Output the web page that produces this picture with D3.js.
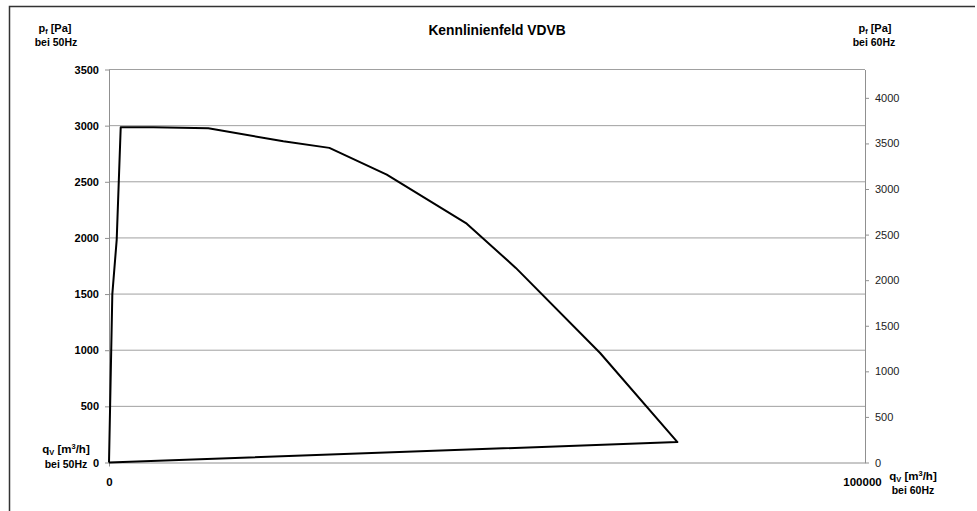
<!DOCTYPE html>
<html>
<head>
<meta charset="utf-8">
<script src="https://cdn.jsdelivr.net/npm/d3@7"></script>
<style>
  body { margin: 0; background: #fff; }
  text { font-family: "Liberation Sans", Arial, sans-serif; }
</style>
</head>
<body>
<svg id="chart" width="977" height="511"></svg>
<script>
// curve points (q in m3/h, p in Pa at 50Hz)
var flowValues = [0, 440, 1020, 1550, 5860, 13140, 23060, 29150, 36740, 47320, 53810, 64960, 75190, 0];
var pressureValues = [0, 1500, 1985, 2986, 2986, 2977, 2861, 2802, 2564, 2127, 1733, 975, 182, 0];
var leftTicks = [0, 500, 1000, 1500, 2000, 2500, 3000, 3500];
var rightTicks = [0, 500, 1000, 1500, 2000, 2500, 3000, 3500, 4000];
var bottomTicks = [0, 100000];

var svg = d3.select("#chart");
// note: "top" is taken by window.top, so use plot* names
var plotLeft = 109, plotRight = 865, plotTop = 69.5, plotBottom = 462.5;

var x = d3.scaleLinear().domain([0, 100000]).range([plotLeft, plotRight]);
var y = d3.scaleLinear().domain([0, 3500]).range([plotBottom, plotTop]);
var y2 = d3.scaleLinear().domain([0, 4311]).range([plotBottom, plotTop]);
var fmt = d3.format("d");

// outer frame (top + left only visible)
svg.append("path")
  .attr("d", "M9.5,511 L9.5,6.5 L975,6.5")
  .attr("fill", "none").attr("stroke", "#333").attr("stroke-width", 1.5);

// grid lines
svg.append("g").selectAll("line").data(leftTicks.slice(1))
  .enter().append("line")
  .attr("x1", plotLeft).attr("x2", plotRight)
  .attr("y1", function (d) { return y(d); })
  .attr("y2", function (d) { return y(d); })
  .attr("stroke", "#a0a0a0").attr("stroke-width", 1);

// left axis
var leftAxis = svg.append("g")
  .attr("transform", "translate(" + plotLeft + ",0)")
  .call(d3.axisLeft(y).tickValues(leftTicks).tickFormat(fmt).tickSize(4).tickPadding(6).tickSizeOuter(0));
leftAxis.selectAll("text").attr("font-size", 11).attr("font-weight", "bold").attr("fill", "#000");

// right axis
var rightAxis = svg.append("g")
  .attr("transform", "translate(" + plotRight + ",0)")
  .call(d3.axisRight(y2).tickValues(rightTicks).tickFormat(fmt).tickSize(4).tickPadding(6).tickSizeOuter(0));
rightAxis.selectAll("text").attr("font-size", 11).attr("fill", "#222");

// bottom axis
var bottomAxis = svg.append("g")
  .attr("transform", "translate(0," + plotBottom + ")")
  .call(d3.axisBottom(x).tickValues(bottomTicks).tickFormat(fmt).tickSize(4).tickPadding(11).tickSizeOuter(0));
bottomAxis.selectAll("text").attr("font-size", 11.5).attr("font-weight", "bold").attr("fill", "#000");
bottomAxis.selectAll("text").filter(function (d) { return d === 100000; }).attr("dx", -3);
bottomAxis.selectAll(".tick line").filter(function (d) { return d === 100000; }).remove();

svg.selectAll(".domain").attr("stroke", "#909090").attr("stroke-width", 1);
svg.selectAll(".tick line").attr("stroke", "#909090");

// curve
var pts = flowValues.map(function (q, i) { return [q, pressureValues[i]]; });
var line = d3.line().x(function (d) { return x(d[0]); }).y(function (d) { return y(d[1]); });
svg.append("path").datum(pts)
  .attr("d", line)
  .attr("fill", "none").attr("stroke", "#000").attr("stroke-width", 2)
  .attr("stroke-linejoin", "round");

// title
svg.append("text").attr("x", 497).attr("y", 35).attr("text-anchor", "middle")
  .attr("font-size", 13.8).attr("font-weight", "bold").text("Kennlinienfeld VDVB");

// axis labels
function label(xp, yp, parts, size) {
  var t = svg.append("text").attr("x", xp).attr("y", yp).attr("text-anchor", "middle")
    .attr("font-size", size).attr("font-weight", "bold");
  parts.forEach(function (p) {
    var s = t.append("tspan").text(p.t);
    if (p.sub) s.attr("font-size", size * 0.65).attr("dy", 2);
    if (p.sup) s.attr("font-size", size * 0.65).attr("dy", -4);
    if (p.back) s.attr("dy", p.back);
  });
  return t;
}
label(55, 32, [{t: "p"}, {t: "f", sub: true}, {t: " [Pa]", back: -2}], 11);
label(56, 46, [{t: "bei 50Hz"}], 10.5);
label(875, 32, [{t: "p"}, {t: "f", sub: true}, {t: " [Pa]", back: -2}], 11);
label(874, 46, [{t: "bei 60Hz"}], 10.5);
label(66, 453, [{t: "q"}, {t: "V", sub: true}, {t: " [m", back: -2}, {t: "3", sup: true}, {t: "/h]", back: 4}], 11.5);
label(66, 468, [{t: "bei 50Hz"}], 10.5);
label(913, 480, [{t: "q"}, {t: "V", sub: true}, {t: " [m", back: -2}, {t: "3", sup: true}, {t: "/h]", back: 4}], 11.5);
label(913, 494, [{t: "bei 60Hz"}], 10.5);
</script>
</body>
</html>
